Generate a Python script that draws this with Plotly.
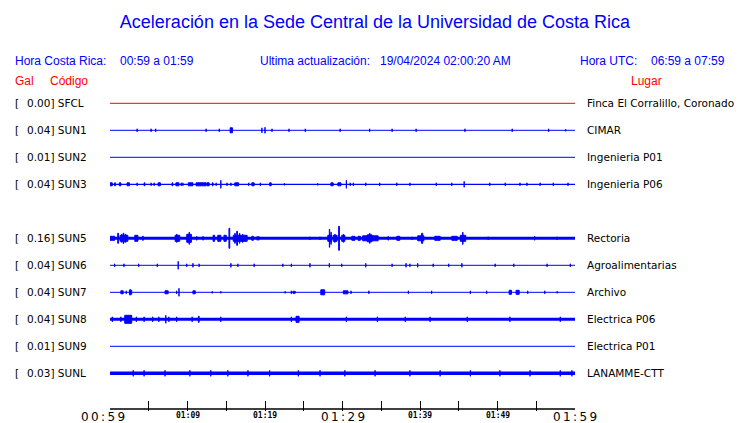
import plotly.graph_objects as go

# ---------------- data ----------------
codes = ["SFCL", "SUN1", "SUN2", "SUN3", "", "SUN5", "SUN6", "SUN7", "SUN8", "SUN9", "SUNL"]
gal = ["0.00", "0.04", "0.01", "0.04", "", "0.16", "0.04", "0.04", "0.04", "0.01", "0.03"]
places = ["Finca El Corralillo, Coronado", "CIMAR", "Ingenieria P01", "Ingenieria P06", "",
          "Rectoria", "Agroalimentarias", "Archivo", "Electrica P06", "Electrica P01", "LANAMME-CTT"]

# minutes after 00:59
tick_minutes = [0, 5, 10, 15, 20, 25, 30, 35, 40, 45, 50, 55, 60]
major_tick_text = {0: "00:59", 30: "01:29", 60: "01:59"}
minor_tick_text = {10: "01:09", 20: "01:19", 40: "01:39", 50: "01:49"}

# bursts: (start_min, end_min, half_amplitude)
ev_SFCL = []
ev_SUN1 = [(3.5, 3.5, 1.5), (5.3, 5.3, 1.5), (5.9, 5.9, 1.5), (12.4, 12.4, 1.5), (14.1, 14.1, 1.5),
           (15.5, 15.8, 2.5), (19.6, 19.6, 2.5), (20.0, 20.0, 3), (20.9, 20.9, 1.5), (23.1, 23.1, 1.5),
           (25.2, 25.2, 1.5), (29.7, 29.7, 1.5), (33.5, 33.5, 1.5), (36.4, 36.4, 1.5), (39.5, 39.5, 1.5),
           (45.8, 45.8, 1.5), (51.9, 51.9, 1.5), (56.6, 56.6, 1.5), (58.8, 58.8, 1)]
ev_SUN2 = []
ev_SUN3 = [(0.0, 0.3, 1.5), (0.6, 0.7, 1.5), (1.2, 1.4, 1.5), (2.2, 2.5, 1.5), (3.5, 3.5, 1.5),
           (4.4, 4.5, 1.5), (5.3, 5.3, 1.5), (5.7, 5.7, 1.5), (6.2, 6.5, 1.5), (8.0, 8.1, 1.5),
           (8.5, 8.9, 1.5), (9.2, 9.2, 1.5), (9.4, 9.4, 1.5), (10.1, 10.7, 1.5), (11.1, 12.4, 1.5),
           (12.5, 12.8, 1.5), (13.2, 13.3, 1.5), (13.7, 13.7, 1.5), (14.3, 14.3, 4), (15.1, 15.1, 1.5),
           (15.6, 15.6, 1.5), (16.1, 16.6, 1.5), (17.9, 17.9, 1.5), (18.3, 18.6, 1.5), (19.4, 19.4, 1.5),
           (20.6, 20.8, 1.5), (22.5, 22.5, 1), (26.8, 26.8, 1), (28.5, 28.8, 1.5), (29.4, 29.8, 1.5),
           (30.5, 30.5, 4), (31.0, 31.0, 1.5), (31.4, 31.4, 1.5), (33.0, 33.0, 1.5), (34.8, 34.8, 1.5),
           (37.0, 37.0, 1.5), (38.7, 38.7, 1.5), (42.1, 42.1, 1.5), (44.1, 44.1, 1.5), (45.7, 45.7, 3),
           (49.0, 49.0, 1.5), (51.0, 51.0, 1.5), (52.9, 52.9, 1.5), (53.8, 53.8, 1.5), (55.5, 55.5, 1.5),
           (57.2, 57.2, 1.5), (59.1, 59.1, 1.5)]
ev_SUN5 = [(0.0, 0.6, 2), (1.0, 1.1, 5), (1.3, 2.3, 3), (1.5, 1.55, 4), (1.7, 1.8, 5), (2.0, 2.05, 4),
           (3.2, 3.6, 3), (4.2, 4.3, 2),
           (8.4, 9.0, 3), (8.6, 8.65, 4), (9.9, 10.5, 4), (10.2, 10.25, 6), (11.2, 11.2, 2), (12.0, 12.0, 2),
           (13.3, 13.5, 3), (13.9, 14.3, 3), (14.7, 15.0, 3), (15.35, 15.45, 10), (15.9, 17.7, 3),
           (16.1, 16.15, 5), (16.35, 16.45, 7), (16.7, 16.75, 5), (17.1, 17.15, 4),
           (18.3, 18.5, 2), (19.0, 19.0, 2), (19.2, 19.2, 2),
           (25.8, 25.8, 1.5), (27.1, 27.1, 1.5), (28.1, 28.6, 3), (28.3, 28.35, 9), (28.5, 28.55, 6),
           (28.8, 29.3, 3), (29.0, 29.05, 4), (29.5, 29.6, 12), (29.9, 30.3, 3), (30.1, 30.15, 4),
           (31.2, 31.6, 2), (32.0, 32.3, 2),
           (32.6, 34.6, 2.5), (33.2, 33.8, 3.5), (33.5, 33.55, 5), (35.9, 35.9, 2), (37.0, 37.4, 2),
           (39.0, 39.0, 1.5), (39.7, 40.5, 2.5), (40.2, 40.35, 5), (41.9, 42.6, 2), (44.1, 44.8, 2),
           (45.2, 45.9, 3), (45.5, 45.55, 6), (48.8, 48.8, 1.5), (54.8, 54.8, 2), (57.7, 57.7, 1.5)]
ev_SUN6 = [(0.6, 0.6, 1.5), (1.8, 1.8, 1.5), (3.7, 3.7, 1.5), (6.1, 6.1, 1.5), (8.8, 8.8, 4),
           (9.9, 9.9, 1.5), (10.7, 10.7, 2), (11.5, 11.5, 1.5), (15.6, 15.6, 2), (16.5, 16.5, 1.5),
           (18.6, 18.6, 1.5), (22.3, 22.3, 1.5), (23.4, 23.4, 1.5), (25.8, 25.8, 2), (28.3, 28.3, 2),
           (29.9, 29.9, 1.5), (33.0, 33.0, 2), (36.4, 36.4, 1.5), (38.2, 38.2, 2), (38.7, 38.7, 1.5),
           (39.7, 39.7, 2), (41.7, 41.7, 1.5), (43.7, 43.7, 1.5), (45.4, 45.4, 2), (49.7, 49.7, 1.5),
           (52.1, 52.1, 1.5), (56.4, 56.4, 1.5), (59.4, 59.4, 1.5)]
ev_SUN7 = [(1.4, 1.7, 1.5), (2.1, 2.1, 1.5), (2.5, 2.8, 2), (2.6, 2.6, 3), (7.1, 7.5, 1.5),
           (8.6, 8.6, 1.5), (8.9, 8.9, 4), (10.7, 11.0, 1.5), (13.2, 13.2, 1), (14.3, 14.3, 1),
           (22.6, 22.6, 1), (23.4, 23.4, 1.5), (23.6, 23.9, 1), (27.2, 27.7, 2.5), (30.1, 30.7, 1.5),
           (31.1, 31.1, 1.5), (33.4, 33.4, 1.5), (38.5, 38.5, 1.5), (41.5, 41.5, 1.5), (46.5, 46.5, 1.5),
           (48.6, 48.6, 1.5), (51.5, 51.8, 2), (52.4, 52.8, 2), (53.9, 53.9, 1.5), (56.1, 56.1, 1.5),
           (57.7, 57.7, 1)]
ev_SUN8 = [(0.3, 0.3, 2.5), (1.4, 1.4, 2.5), (1.9, 2.8, 4), (3.4, 3.4, 2.5), (4.4, 4.4, 2.5),
           (5.5, 5.5, 2.5), (6.3, 6.3, 2.5), (7.2, 7.2, 4), (7.6, 7.6, 2.5), (8.6, 8.6, 2.5),
           (10.6, 10.6, 2.5), (11.4, 11.5, 3), (14.3, 14.3, 2.5), (23.4, 23.4, 2.5), (24.0, 24.4, 3),
           (30.5, 30.5, 2.5), (34.5, 34.5, 2.5), (38.1, 38.1, 2.5), (41.3, 41.3, 2.5), (46.1, 46.1, 2.5),
           (51.6, 51.6, 2.5), (58.1, 58.1, 2.5)]
ev_SUN9 = []
ev_SUNL = [(3.0, 3.0, 3), (4.4, 4.4, 3), (7.1, 7.1, 3), (10.3, 10.3, 3), (13.0, 13.0, 3),
           (15.2, 15.2, 3), (17.8, 17.8, 3), (20.6, 20.6, 3), (24.3, 24.3, 3), (27.1, 27.1, 3),
           (30.3, 30.3, 3), (34.2, 34.2, 3), (38.7, 38.7, 3), (42.6, 42.6, 3), (46.5, 46.5, 3),
           (50.3, 50.3, 3), (54.2, 54.2, 3), (58.1, 58.1, 3), (59.6, 59.6, 3)]
events = [ev_SFCL, ev_SUN1, ev_SUN2, ev_SUN3, None, ev_SUN5, ev_SUN6, ev_SUN7, ev_SUN8, ev_SUN9, ev_SUNL]

# ---------------- styles ----------------
BLUE = "#0000ff"
RED = "#ff0000"
trace_colors = [RED] + [BLUE] * 10
base_widths = [1, 1, 1, 1.3, 0, 3, 1, 1, 3, 1, 3.5]
ROW_PX = 27.0          # pixels between rows
AMP = 1.0 / ROW_PX     # amplitude units -> row units
T0, T1 = 0, 60

W, H = 740, 423
L, R, TOP, BOT = 110, 165, 90, 12
pw = W - L - R
ph = H - TOP - BOT
row0_off = 103.3 - TOP
ytop = row0_off / ROW_PX
ybot = -(ph - row0_off) / ROW_PX
axis_y = ybot + 2.0 / ROW_PX   # time-axis baseline, just above the plot bottom

fig = go.Figure()
for i, code in enumerate(codes):
    if not code:
        continue
    yc = -i
    col = trace_colors[i]
    fig.add_trace(go.Scatter(x=[T0, T1], y=[yc, yc], mode="lines",
                             line=dict(color=col, width=base_widths[i]), hoverinfo="skip"))
    ev = events[i]
    if ev:
        xs, ys = [], []
        for (a, b, amp) in ev:
            h = amp * AMP
            xs += [a, b, b, a, a, None]
            ys += [yc - h, yc - h, yc + h, yc + h, yc - h, None]
        fig.add_trace(go.Scatter(x=xs, y=ys, mode="lines", fill="toself", fillcolor=col,
                                 line=dict(color=col, width=1), hoverinfo="skip"))

# time-axis baseline drawn on the axis scale
fig.add_trace(go.Scatter(x=[T0, T1], y=[axis_y, axis_y], mode="lines", cliponaxis=False,
                         line=dict(color="black", width=1.5), hoverinfo="skip"))

def px_x(xpx):
    return (xpx - L) / pw

def px_y(ypx):
    return 1 - (ypx - TOP) / ph

def note(**kw):
    fig.add_annotation(showarrow=False, borderpad=0, borderwidth=0, **kw)

lab_font = dict(family="DejaVu Sans", size=10.5, color="black")
for i, code in enumerate(codes):
    if not code:
        continue
    note(x=px_x(15), xref="paper", y=-i, yref="y", text="[", xanchor="left", yanchor="middle",
         font=lab_font)
    note(x=px_x(27), xref="paper", y=-i, yref="y", text=f"{gal[i]}] {code}", xanchor="left",
         yanchor="middle", font=lab_font)
    note(x=px_x(587), xref="paper", y=-i, yref="y", text=places[i], xanchor="left",
         yanchor="middle", font=lab_font)

hdr_font = dict(family="Liberation Sans", size=12, color=BLUE)
red_font = dict(family="Liberation Sans", size=12, color=RED)
def hdr(xpx, ypx, text, font, anchor="left"):
    note(x=px_x(xpx), xref="paper", y=px_y(ypx), yref="paper", text=text,
         xanchor=anchor, yanchor="middle", font=font)

hdr(15, 61, "Hora Costa Rica:", hdr_font)
hdr(120, 61, "00:59 a 01:59", hdr_font)
hdr(260, 61, "Ultima actualización:", hdr_font)
hdr(380, 61, "19/04/2024 02:00:20 AM", hdr_font)
hdr(580, 61, "Hora UTC:", hdr_font)
hdr(651, 61, "06:59 a 07:59", hdr_font)
hdr(15, 81, "Gal", red_font)
hdr(50, 81, "Código", red_font)
hdr(646, 81, "Lugar", red_font, anchor="center")

def spaced(s):
    return "\u2009".join(s)

for t, txt in major_tick_text.items():
    note(x=t, xref="x", y=px_y(416.5), yref="paper", text=spaced(txt), xanchor="center",
         yanchor="middle", xshift=(-7 if t == T0 else 0),
         font=dict(family="DejaVu Sans", size=12, color="black"))
for t, txt in minor_tick_text.items():
    note(x=t, xref="x", y=px_y(415), yref="paper", text=txt, xanchor="center",
         yanchor="middle", font=dict(family="DejaVu Sans Mono", size=8, color="black", weight="bold"))

fig.update_layout(
    width=W, height=H, margin=dict(l=L, r=R, t=TOP, b=BOT, pad=0, autoexpand=False),
    paper_bgcolor="white", plot_bgcolor="white", showlegend=False,
    title=dict(text="Aceleración en la Sede Central de la Universidad de Costa Rica",
               x=375 / W, xanchor="center", y=1 - 22 / H, yanchor="middle",
               font=dict(family="Liberation Sans", size=18, color=BLUE)),
    xaxis=dict(range=[T0, T1], showgrid=False, zeroline=False, showline=False,
               ticks="inside", ticklen=10, tickcolor="black", tickwidth=1,
               tickvals=tick_minutes, showticklabels=False, automargin=False, fixedrange=True),
    yaxis=dict(range=[ybot, ytop], visible=False, fixedrange=True, automargin=False),
)

fig.write_html("out.html", config={"displayModeBar": False},
               post_script="document.body.style.margin='0';document.body.style.overflow='hidden';")
